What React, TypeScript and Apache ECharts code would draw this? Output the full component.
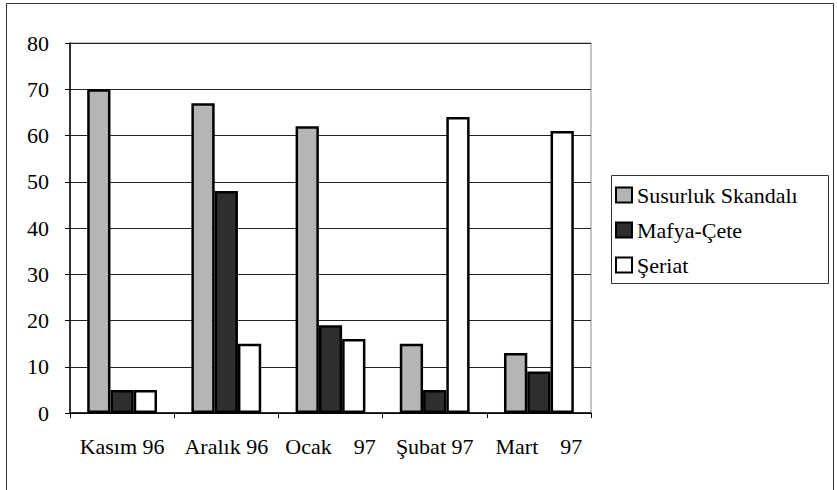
import React, { useEffect, useRef } from "react";
import * as echarts from "echarts";

const categories = ["Kasım 96", "Aralık 96", "Ocak    97", "Şubat 97", "Mart    97"];
const seriesNames = ["Susurluk Skandalı", "Mafya-Çete", "Şeriat"];
const susurluk = [70, 67, 62, 15, 13];
const mafya = [5, 48, 19, 5, 9];
const seriat = [5, 15, 16, 64, 61];
const yMin = 0;
const yMax = 80;
const yInterval = 10;

const FONT = "'Liberation Serif', 'Times New Roman', serif";

export default function App() {
  const ref = useRef<HTMLDivElement>(null);
  useEffect(() => {
    if (!ref.current) return;
    const chart = echarts.init(ref.current, undefined, { renderer: "svg" });
    const fills = ["#b5b5b5", "#2e2e2e", "#ffffff"];
    const values = [susurluk, mafya, seriat];
    chart.setOption({
      animation: false,
      backgroundColor: "#ffffff",
      textStyle: { fontFamily: FONT },
      grid: {
        left: 70,
        right: 246,
        top: 43,
        bottom: 77,
        show: true,
        borderColor: "#8a8a8a",
        borderWidth: 1,
      },
      legend: {
        orient: "vertical",
        left: 615,
        top: 184,
        icon: "rect",
        itemWidth: 16,
        itemHeight: 15,
        itemGap: 13,
        padding: 0,
        textStyle: { fontFamily: FONT, fontSize: 22, color: "#000" },
        data: seriesNames,
      },
      xAxis: {
        type: "category",
        data: categories,
        axisLine: { lineStyle: { color: "#000", width: 1.5 } },
        axisTick: { show: true, length: 5, lineStyle: { color: "#000" } },
        axisLabel: { fontFamily: FONT, fontSize: 22, color: "#000", margin: 22, interval: 0 },
        splitLine: { show: false },
      },
      yAxis: {
        type: "value",
        min: yMin,
        max: yMax,
        interval: yInterval,
        axisLine: { show: true, lineStyle: { color: "#000", width: 1.5 } },
        axisTick: { show: true, length: 5, lineStyle: { color: "#000" } },
        axisLabel: { fontFamily: FONT, fontSize: 22, color: "#000", margin: 21 },
        splitLine: { show: true, lineStyle: { color: "#222", width: 1 } },
      },
      graphic: [
        {
          type: "rect",
          shape: { x: 6.5, y: 3.5, width: 827, height: 500 },
          style: { fill: "none", stroke: "#333", lineWidth: 1 },
          silent: true,
          z: -1,
        },
        {
          type: "rect",
          shape: { x: 611.5, y: 175.5, width: 217, height: 108 },
          style: { fill: "none", stroke: "#333", lineWidth: 1 },
          silent: true,
        },
      ],
      series: seriesNames.map((name, i) => ({
        name,
        type: "bar",
        data: values[i],
        barCategoryGap: "33%",
        barGap: "0%",
        itemStyle: { color: fills[i], borderColor: "#000", borderWidth: 2.5 },
      })),
    });
    return () => chart.dispose();
  }, []);
  return (
    <div
      ref={ref}
      style={{ position: "absolute", left: 0, top: 0, width: 837, height: 490 }}
    />
  );
}
